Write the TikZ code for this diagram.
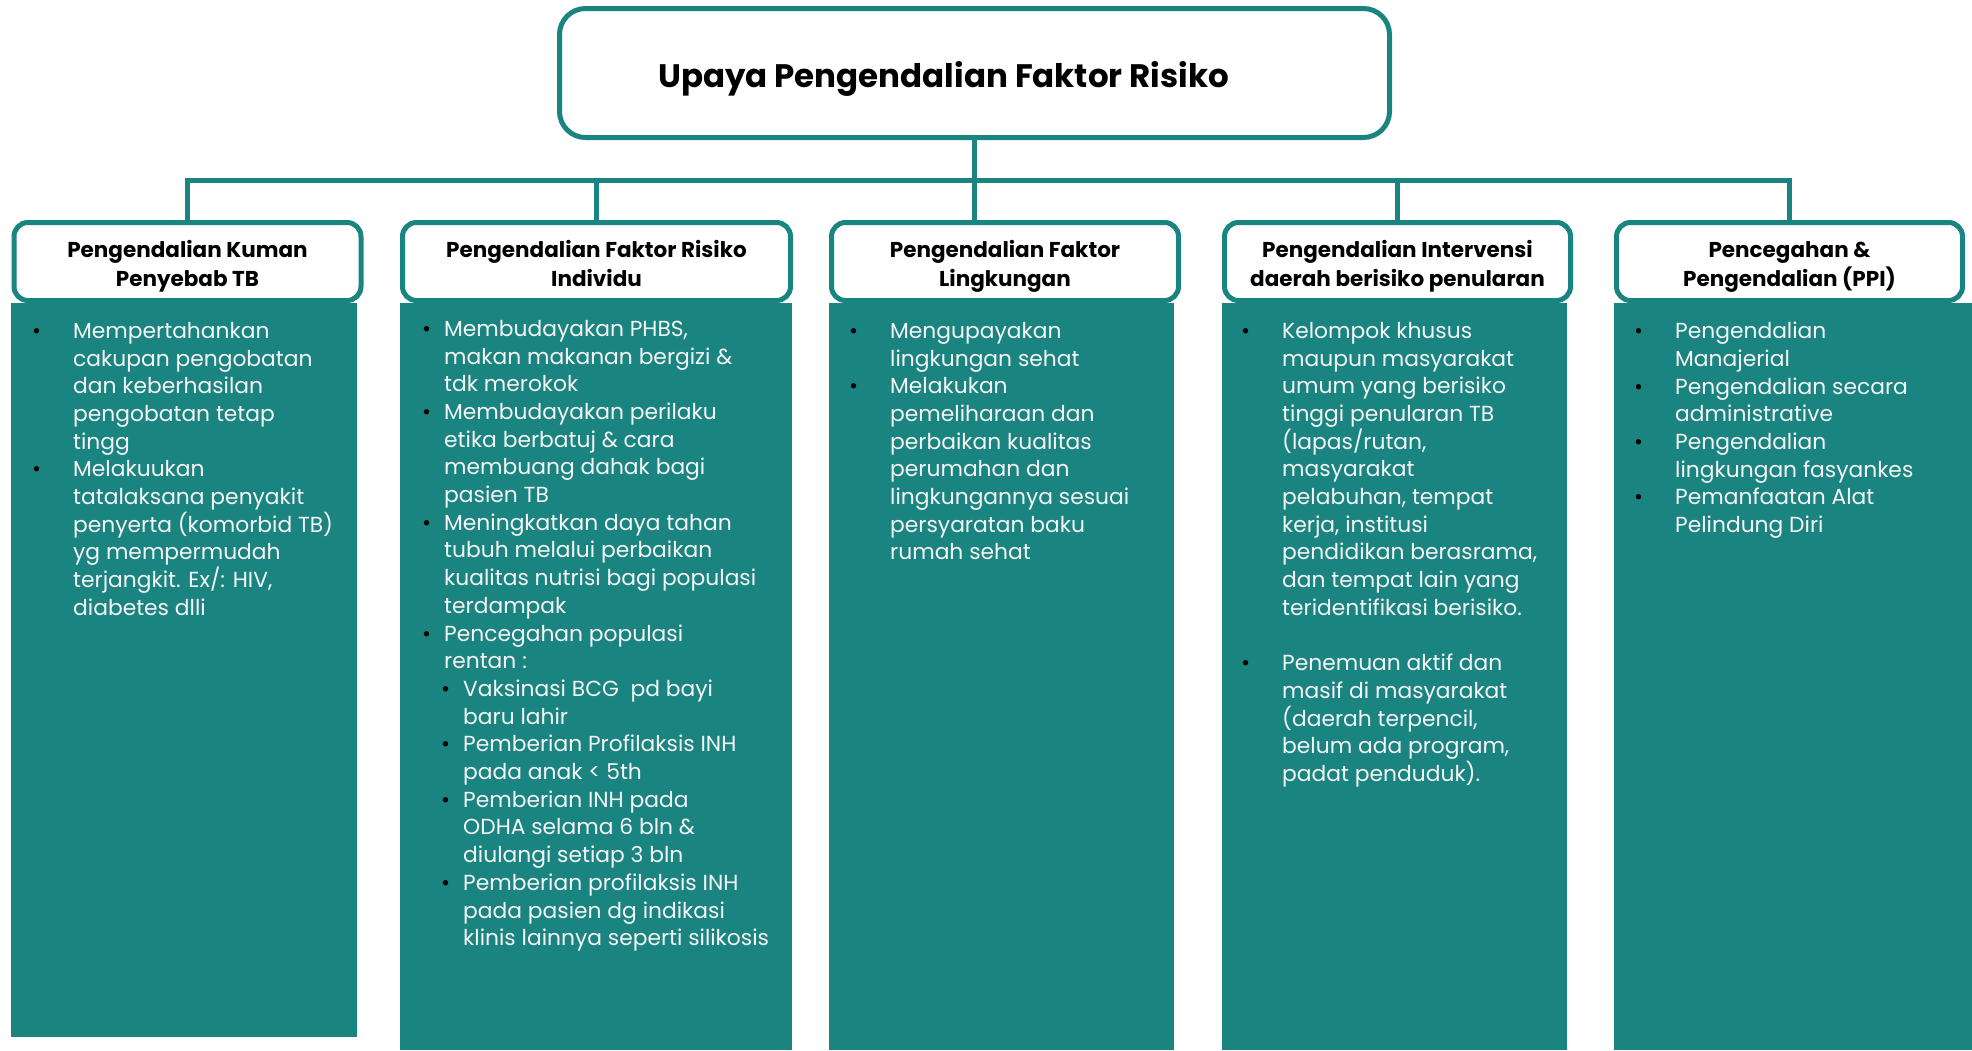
\documentclass[tikz,border=0pt]{standalone}
\usepackage{fontspec}
\setmainfont{Poppins}
\usepackage{tikz}
\usetikzlibrary{positioning}
\definecolor{tealb}{RGB}{26,132,129}
\definecolor{offwhite}{RGB}{245,245,245}
\tikzset{
  topbox/.style={draw=tealb, line width=5pt, rounded corners=26pt, fill=white,
    minimum width=830pt, minimum height=129pt, inner sep=0pt,
    text height=39pt, text depth=10pt,
    font=\fontsize{32.5}{38}\selectfont\bfseries},
  headbox/.style={draw=tealb, line width=5pt, rounded corners=14pt, fill=white,
    minimum height=78pt, inner sep=0pt, align=center,
    text height=54.5pt, text depth=5pt,
    font=\fontsize{21.5}{28.5}\selectfont\bfseries},
  bodytext/.style={anchor=north west, align=left, inner sep=0pt, text=offwhite,
    font=\fontsize{21.8}{27.7}\selectfont},
  link/.style={draw=tealb, line width=5pt}
}
% bullet, #1 = room between dot and text
\newcommand{\bl}[1]{\llap{\textcolor{black}{\textbullet}\hspace*{#1}}}

\begin{document}
\begin{tikzpicture}[x=1pt,y=-1pt]

  \useasboundingbox (0,0) rectangle (1972,1050);

  % teal columns
  \fill [tealb] (11,303) rectangle (357,1037);
  \fill [tealb] (400,303) rectangle (792,1050);
  \fill [tealb] (829,303) rectangle (1174,1050);
  \fill [tealb] (1222,303) rectangle (1567,1050);
  \fill [tealb] (1614,303) rectangle (1972,1050);

  \node [topbox] (top) at (974.5,73) {Upaya Pengendalian Faktor Risiko\hspace*{62pt}};

  \node [headbox, minimum width=347pt] (h1) at (187.5,261.5) {Pengendalian Kuman\\Penyebab TB};
  \node [headbox, minimum width=388pt] (h2) at (596.5,261.5) {Pengendalian Faktor Risiko\\Individu};
  \node [headbox, minimum width=347pt] (h3) at (1005,261.5) {Pengendalian Faktor\\Lingkungan};
  \node [headbox, minimum width=346pt] (h4) at (1397.5,261.5) {Pengendalian Intervensi\\daerah berisiko penularan};
  \node [headbox, minimum width=346pt] (h5) at (1789.5,261.5) {Pencegahan \&\\Pengendalian (PPI)};

  \coordinate (bus) at (976,180);

  \draw [link] (top.south) -- (top.south |- h3.north);
  \draw [link] (h1.north) |- (bus) -| (h5.north);
  \draw [link] (h2.north) -- (h2.north |- bus);
  \draw [link] (h4.north) -- (h4.north |- bus);

  \node [bodytext] (t1) at (73,322) {\bl{32pt}Mempertahankan\\
    cakupan pengobatan\\ dan keberhasilan\\ pengobatan tetap\\ tingg\\
    \bl{32pt}Melakuukan\\ tatalaksana penyakit\\ penyerta (komorbid TB)\\
    yg mempermudah\\ terjangkit. Ex/: HIV,\\ diabetes dlli};

  \node [bodytext] (t2) at (444,320) {\bl{13pt}Membudayakan PHBS,\\
    makan makanan bergizi \&\\ tdk merokok\\
    \bl{13pt}Membudayakan perilaku\\ etika berbatuj \& cara\\ membuang dahak bagi\\ pasien TB\\
    \bl{13pt}Meningkatkan daya tahan\\ tubuh melalui perbaikan\\ kualitas nutrisi bagi populasi\\ terdampak\\
    \bl{13pt}Pencegahan populasi\\ rentan :\\
    \hspace*{19pt}\bl{13pt}Vaksinasi BCG\ \ pd bayi\\ \hspace*{19pt}baru lahir\\
    \hspace*{19pt}\bl{13pt}Pemberian Profilaksis INH\\ \hspace*{19pt}pada anak < 5th\\
    \hspace*{19pt}\bl{13pt}Pemberian INH pada\\ \hspace*{19pt}ODHA selama 6 bln \&\\ \hspace*{19pt}diulangi setiap 3 bln\\
    \hspace*{19pt}\bl{13pt}Pemberian profilaksis INH\\ \hspace*{19pt}pada pasien dg indikasi\\ \hspace*{19pt}klinis lainnya seperti silikosis};

  \node [bodytext] (t3) at (890,322) {\bl{32pt}Mengupayakan\\ lingkungan sehat\\
    \bl{32pt}Melakukan\\ pemeliharaan dan\\ perbaikan kualitas\\ perumahan dan\\
    lingkungannya sesuai\\ persyaratan baku\\ rumah sehat};

  \node [bodytext] (t4) at (1282,322) {\bl{32pt}Kelompok khusus\\ maupun masyarakat\\
    umum yang berisiko\\ tinggi penularan TB\\ (lapas/rutan,\\ masyarakat\\
    pelabuhan, tempat\\ kerja, institusi\\ pendidikan berasrama,\\
    dan tempat lain yang\\ teridentifikasi berisiko.\\[27.7pt]
    \bl{32pt}Penemuan aktif dan\\ masif di masyarakat\\ (daerah terpencil,\\
    belum ada program,\\ padat penduduk).};

  \node [bodytext] (t5) at (1675,322) {\bl{32pt}Pengendalian\\ Manajerial\\
    \bl{32pt}Pengendalian secara\\ administrative\\
    \bl{32pt}Pengendalian\\ lingkungan fasyankes\\
    \bl{32pt}Pemanfaatan Alat\\ Pelindung Diri};

\end{tikzpicture}
\end{document}
